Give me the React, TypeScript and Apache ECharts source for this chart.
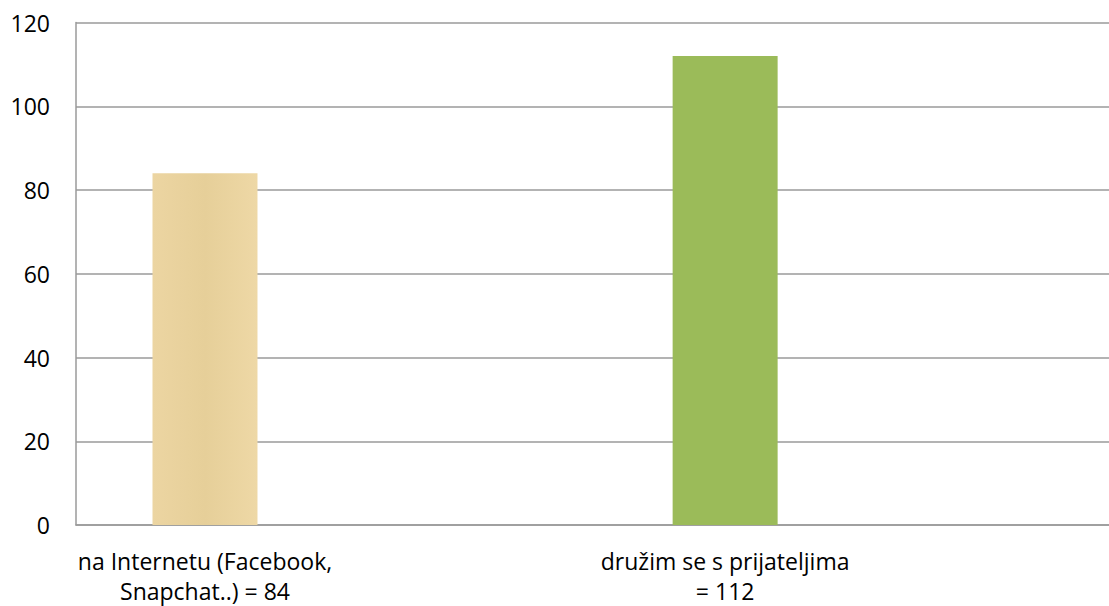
import React, { useEffect, useRef } from "react";
import * as echarts from "echarts";

const categories = ["na Internetu (Facebook,\nSnapchat..) = 84", "družim se s prijateljima\n= 112"];
const values = [84, 112];
const barColors = ["#ead39e", "#9bbb59"];
const yTicks = { min: 0, max: 120, interval: 20 };

export default function App() {
  const ref = useRef<HTMLDivElement>(null);
  useEffect(() => {
    document.body.style.margin = "0";
    const chart = echarts.init(ref.current!, null, { renderer: "svg" });
    const font = "'Open Sans', sans-serif";
    chart.setOption({
      animation: false,
      backgroundColor: "#ffffff",
      grid: { left: 76, right: 0, top: 22.5, bottom: 81, containLabel: false, outerBoundsMode: "none" },
      xAxis: {
        type: "value",
        min: -0.248,
        max: 1.738,
        axisLine: { show: true, onZero: false, lineStyle: { color: "#9a9a9a", width: 1.5 } },
        axisTick: { show: false },
        splitLine: { show: false },
        axisLabel: {
          customValues: categories.map((_, i) => i),
          formatter: (v: number) => categories[Math.round(v)] ?? "",
          color: "#000",
          fontFamily: font,
          fontSize: 23,
          lineHeight: 30,
          margin: 21,
          align: "center",
        },
      },
      yAxis: {
        type: "value",
        min: yTicks.min,
        max: yTicks.max,
        interval: yTicks.interval,
        axisLine: { show: true, onZero: false, lineStyle: { color: "#9a9a9a", width: 1.5 } },
        axisTick: { show: false },
        splitLine: { show: true, lineStyle: { color: "#9a9a9a", width: 1.5 } },
        axisLabel: { color: "#000", fontFamily: font, fontSize: 23, margin: 26 },
      },
      series: [
        {
          type: "bar",
          barWidth: 105,
          data: values.map((v, i) => ({
            value: [i, v],
            itemStyle: {
              color:
                i === 0
                  ? {
                      type: "linear",
                      x: 0,
                      y: 0,
                      x2: 1,
                      y2: 0,
                      colorStops: [
                        { offset: 0, color: "#ecd5a2" },
                        { offset: 0.5, color: "#e6cf99" },
                        { offset: 1, color: "#eed8a6" },
                      ],
                    }
                  : barColors[i],
            },
          })),
        },
      ],
    });
    return () => chart.dispose();
  }, []);
  return <div ref={ref} style={{ width: 1109, height: 606 }} />;
}
